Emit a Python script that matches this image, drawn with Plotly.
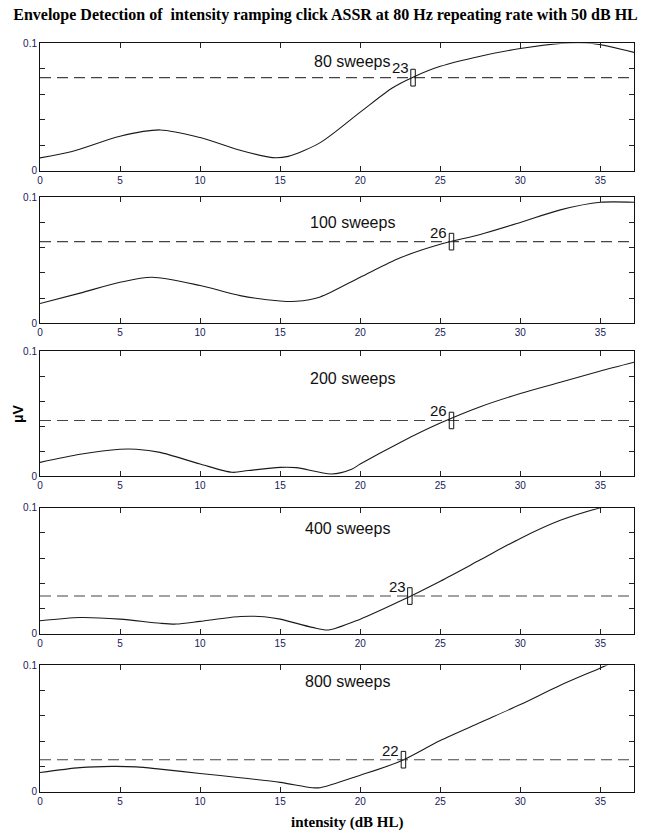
import plotly.graph_objects as go
from plotly.subplots import make_subplots

# ---------------- data ----------------
sweep_labels = ["80 sweeps", "100 sweeps", "200 sweeps", "400 sweeps", "800 sweeps"]

x1 = [0, 2, 5, 7.5, 10, 12.5, 14.5, 15.5, 17.5, 20, 22, 23.3, 25, 27.5, 30, 32.5, 34.5, 37.1]
y1 = [0.010, 0.015, 0.027, 0.032, 0.026, 0.016, 0.0102, 0.0112, 0.022, 0.046, 0.065, 0.0735,
      0.082, 0.090, 0.096, 0.100, 0.100, 0.093]

x2 = [0, 2.5, 5, 7, 10, 12.5, 15, 16, 17.5, 20, 22.5, 25, 27.5, 30, 32.5, 35, 37.1]
y2 = [0.0157, 0.024, 0.0326, 0.0366, 0.030, 0.022, 0.0178, 0.0175, 0.021, 0.0366, 0.052,
      0.0627, 0.0705, 0.080, 0.090, 0.096, 0.096]

x3 = [0, 2.5, 5, 6, 7.5, 10, 12, 13, 15, 16, 18.2, 19.5, 20, 22.5, 25, 27.5, 30, 32.5, 35, 37.1]
y3 = [0.011, 0.0175, 0.0215, 0.0215, 0.019, 0.0097, 0.0031, 0.0045, 0.007, 0.0068, 0.0018,
      0.0058, 0.0097, 0.027, 0.0424, 0.0555, 0.066, 0.075, 0.084, 0.091]

x4 = [0, 2.5, 5, 7.5, 8.5, 10, 12.5, 14, 15, 17, 18, 20, 22.5, 25, 27.5, 30, 32.5, 35, 37.1]
y4 = [0.0104, 0.013, 0.0117, 0.0084, 0.0078, 0.0099, 0.0138, 0.0136, 0.0117, 0.0052, 0.0031,
      0.0117, 0.026, 0.0418, 0.0587, 0.0757, 0.090, 0.100, 0.106]

x5 = [0, 2.5, 4.5, 6, 7.5, 10, 12.5, 15, 17, 17.5, 20, 22.5, 25, 27.5, 30, 32.5, 35, 37.1]
y5 = [0.0151, 0.019, 0.020, 0.0196, 0.0178, 0.0144, 0.011, 0.0073, 0.0031, 0.0031, 0.013,
      0.024, 0.0405, 0.0548, 0.069, 0.0843, 0.098, 0.110]

thresholds = [0.0731, 0.0648, 0.0445, 0.030, 0.0253]
detect_x = [23.3, 25.7, 25.7, 23.1, 22.7]
detect_labels = ["23", "26", "26", "23", "22"]

x_ticks = [0, 5, 10, 15, 20, 25, 30, 35]
y_ticks = [0, 0.02, 0.04, 0.06, 0.08, 0.1]
y_ticktext = ["0", "", "", "", "", "0.1"]

xs = [x1, x2, x3, x4, x5]
ys = [y1, y2, y3, y4, y5]

# ---------------- layout helpers ----------------
W, H = 651, 840
panel_px = [(38, 167), (194, 322), (350, 477), (509, 637), (669, 797)]  # top, bottom in px
label_pos = [(19.5, 0.086), (19.5, 0.080), (19.5, 0.078), (19.2, 0.0835), (19.2, 0.0875)]
X_MAX = 37.1
rect_w = 0.14
rect_h = 0.0066

fig = make_subplots(rows=5, cols=1)
tick_font = dict(family="Liberation Sans, Arial, sans-serif", size=10, color="#20205a")

for i in range(5):
    r = i + 1
    fig.add_trace(go.Scatter(x=xs[i], y=ys[i], mode="lines",
                             line=dict(color="#1a1a1a", width=1.1, shape="spline", smoothing=0.8),
                             showlegend=False, hoverinfo="x+y"), row=r, col=1)
    fig.add_trace(go.Scatter(x=[0, X_MAX], y=[thresholds[i], thresholds[i]], mode="lines",
                             line=dict(color="#444444", width=1.1, dash="11px,6px"),
                             showlegend=False, hoverinfo="skip"), row=r, col=1)
    # detection rectangle
    fig.add_shape(type="rect", x0=detect_x[i] - rect_w, x1=detect_x[i] + rect_w,
                  y0=thresholds[i] - rect_h, y1=thresholds[i] + rect_h,
                  line=dict(color="#111111", width=1), fillcolor="rgba(0,0,0,0)",
                  row=r, col=1)
    fig.add_annotation(x=detect_x[i] - rect_w, y=thresholds[i] + rect_h + 0.001,
                       text=detect_labels[i], showarrow=False, xanchor="right", yanchor="middle",
                       font=dict(family="Liberation Sans, Arial, sans-serif", size=15, color="#111"),
                       row=r, col=1)
    fig.add_annotation(x=label_pos[i][0], y=label_pos[i][1], text=sweep_labels[i],
                       showarrow=False, xanchor="center", yanchor="middle",
                       font=dict(family="Liberation Sans, Arial, sans-serif", size=16, color="#111"),
                       row=r, col=1)
    top, bot = panel_px[i]
    fig.update_yaxes(domain=[1 - bot / H, 1 - top / H], range=[0, 0.1],
                     tickvals=y_ticks, ticktext=y_ticktext, ticks="inside", ticklen=5,
                     tickcolor="#222", showline=True, linecolor="#111", linewidth=1,
                     mirror="ticks", showgrid=False, zeroline=False, tickfont=tick_font,
                     row=r, col=1)
    fig.update_xaxes(range=[0, X_MAX], tickvals=x_ticks, ticks="inside", ticklen=5,
                     tickcolor="#222", showline=True, linecolor="#111", linewidth=1,
                     mirror="ticks", showgrid=False, zeroline=False, tickfont=tick_font,
                     row=r, col=1)

fig.update_layout(
    width=W, height=H,
    margin=dict(l=40, r=W - 634, t=0, b=0),
    plot_bgcolor="white", paper_bgcolor="white",
    title=dict(text="Envelope Detection of  intensity ramping click ASSR at 80 Hz repeating rate with 50 dB HL",
               x=0.5, xref="container", xanchor="center", y=1 - 14 / H, yref="container",
               yanchor="middle",
               font=dict(family="Liberation Serif, Times New Roman, serif", size=16, color="#000",
                         weight="bold")),
)

fig.add_annotation(x=(40 + 634) / 2 / W, y=1 - 828 / H, xref="paper", yref="paper",
                   text="<b>intensity (dB HL)</b>", showarrow=False, xanchor="center",
                   yanchor="middle",
                   font=dict(family="Liberation Serif, Times New Roman, serif", size=15, color="#000"))
fig.add_annotation(x=0, y=1 - 414 / H, xref="paper", yref="paper", xshift=-22,
                   text="<b>μV</b>", showarrow=False, textangle=-90, xanchor="center",
                   yanchor="middle",
                   font=dict(family="Liberation Sans, Arial, sans-serif", size=14, color="#000"))

fig.write_html("out.html", config={"displayModeBar": False},
               post_script="document.body.style.margin='0';document.body.style.padding='0';")
